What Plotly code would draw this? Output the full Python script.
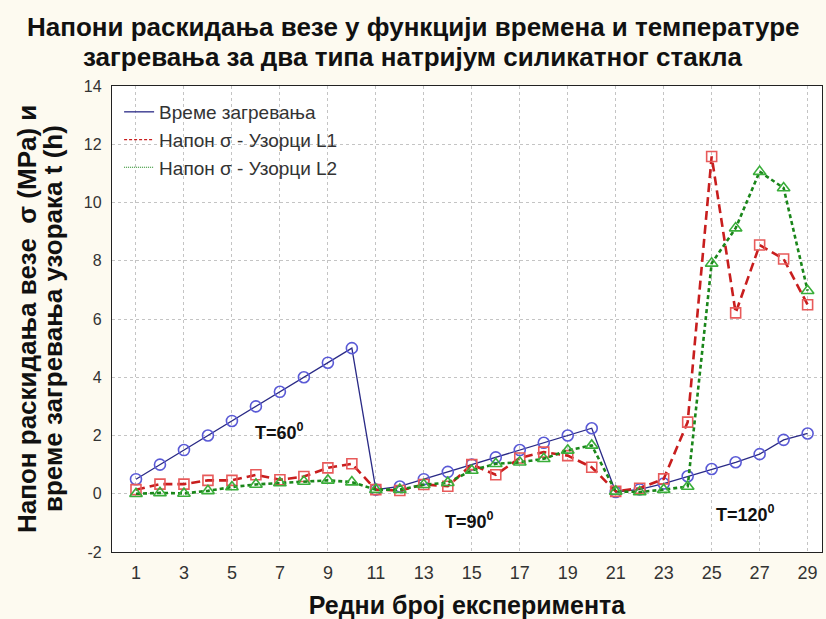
import plotly.graph_objects as go

experiment = list(range(1, 30))
heating_time = [0.5, 1.0, 1.5, 2.0, 2.5, 3.0, 3.5, 4.0, 4.5, 5.0,
                0.14, 0.25, 0.5, 0.75, 1.0, 1.25, 1.5, 1.75, 2.0, 2.25,
                0.06, 0.15, 0.35, 0.6, 0.85, 1.08, 1.36, 1.85, 2.07]
stress_L1 = [0.14, 0.33, 0.33, 0.46, 0.46, 0.65, 0.48, 0.59, 0.89, 1.03,
             0.14, 0.11, 0.32, 0.26, 1.0, 0.65, 1.23, 1.43, 1.31, 0.91,
             0.08, 0.19, 0.51, 2.46, 11.58, 6.21, 8.54, 8.06, 6.49]
stress_L2 = [0.0, 0.03, 0.01, 0.1, 0.23, 0.32, 0.37, 0.42, 0.46, 0.4,
             0.14, 0.14, 0.31, 0.38, 0.8, 1.03, 1.08, 1.2, 1.49, 1.66,
             0.08, 0.06, 0.14, 0.25, 7.91, 9.12, 11.06, 10.5, 6.97]
names = ["Време загревања", "Напон σ - Узорци L1", "Напон σ - Узорци L2"]
x_tickvals = list(range(1, 30, 2))
y_tickvals = [-2, 0, 2, 4, 6, 8, 10, 12, 14]
y_ticktext = ["-2", "0", "2", "4", "6", "8", "10", "12", "14"]
annotations_text = ["T=60<sup>0</sup>", "T=90<sup>0</sup>", "T=120<sup>0</sup>"]
annotations_xy = [(7.0, 2.15), (14.9, -0.92), (26.4, -0.68)]
title_lines = ["Напони раскидања везе у функцији времена и температуре",
               "загревања за два типа натријум силикатног стакла"]
ytitle_lines = ["Напон раскидања везе  σ (MPa) и", "време загревања узорака t (h)"]
xtitle = "Редни број експеримента"

blue_line, blue_mk = "#2a2a86", "#5a5ad6"
red_line, red_mk = "#c81e1e", "#e85a5a"
green_line, green_mk = "#1a861a", "#3aae3a"

fig = go.Figure()
fig.add_trace(go.Scatter(x=experiment, y=heating_time, mode="lines+markers",
                         line=dict(color=blue_line, width=1.3),
                         marker=dict(symbol="circle-open", size=11, color=blue_mk, line=dict(width=1.6)),
                         showlegend=False))
fig.add_trace(go.Scatter(x=experiment, y=stress_L1, mode="lines+markers",
                         line=dict(color=red_line, width=2.6, dash="9px,5px"),
                         marker=dict(symbol="square-open", size=10, color=red_mk, line=dict(width=1.6)),
                         showlegend=False))
fig.add_trace(go.Scatter(x=experiment, y=stress_L2, mode="lines+markers",
                         line=dict(color=green_line, width=2.6, dash="4px,3px"),
                         marker=dict(symbol="triangle-up-open", size=11, color=green_mk, line=dict(width=1.6)),
                         showlegend=False))
# legend entries (lines only, as in the reference)
fig.add_trace(go.Scatter(x=[None], y=[None], mode="lines", name=names[0],
                         line=dict(color=blue_line, width=1.3)))
fig.add_trace(go.Scatter(x=[None], y=[None], mode="lines", name=names[1],
                         line=dict(color=red_line, width=1.2, dash="3px,2px")))
fig.add_trace(go.Scatter(x=[None], y=[None], mode="lines", name=names[2],
                         line=dict(color=green_line, width=1.2, dash="1px,1px")))

for txt, (ax, ay) in zip(annotations_text, annotations_xy):
    fig.add_annotation(x=ax, y=ay, text="<b>" + txt + "</b>", showarrow=False,
                       font=dict(family="Liberation Sans, Arial", size=18, color="#111"))

# title lines
for i, line in enumerate(title_lines):
    fig.add_annotation(xref="paper", yref="paper", x=(413 - 112) / 710, y=1 + (86 - (27 + 30 * i)) / 466,
                       xanchor="center", yanchor="middle", showarrow=False, text="<b>" + line + "</b>",
                       font=dict(family="Liberation Sans Narrow, Liberation Sans, Arial", size=26, color="#111"))
# y-axis title lines
for i, line in enumerate(ytitle_lines):
    fig.add_annotation(xref="paper", yref="paper", x=-(112 - (27 + 26 * i)) / 710, y=(552 - 319) / 466,
                       xanchor="center", yanchor="middle", textangle=-90, showarrow=False,
                       text="<b>" + line + "</b>",
                       font=dict(family="Liberation Sans, Arial", size=26, color="#111"))

fig.update_layout(
    width=826, height=619,
    paper_bgcolor="#fdfaf0", plot_bgcolor="#ffffff",
    margin=dict(l=112, r=4, t=86, b=67, autoexpand=False),
    legend=dict(x=0.01, y=0.985, xanchor="left", yanchor="top",
                bgcolor="rgba(0,0,0,0)", font=dict(family="Liberation Sans, Arial", size=19, color="#333"),
                tracegroupgap=0, itemwidth=30),
    font=dict(family="Liberation Sans, Arial", color="#333"),
)
fig.update_xaxes(range=[0, 29.6], tickvals=x_tickvals, showgrid=True, gridcolor="#c4c4c4", griddash="dot",
                 gridwidth=1, zeroline=False, showline=True, linecolor="#222", linewidth=1.3, mirror=True,
                 ticks="", ticklabelstandoff=4,
                 tickfont=dict(family="Liberation Sans Narrow, Liberation Sans, Arial", size=18, color="#333"),
                 title=dict(text="<b>" + xtitle + "</b>", standoff=16,
                            font=dict(family="Liberation Sans Narrow, Liberation Sans, Arial", size=25, color="#111")))
fig.update_yaxes(range=[-2, 14], tickvals=y_tickvals, ticktext=y_ticktext, showgrid=True, gridcolor="#c4c4c4",
                 griddash="dot", gridwidth=1, zeroline=False, showline=True, linecolor="#222", linewidth=1.3,
                 mirror=True, ticks="", ticklabelstandoff=6,
                 tickfont=dict(family="Liberation Sans, Arial", size=16, color="#333"))

fig.write_html("out.html", config={"displayModeBar": False},
               post_script="document.body.style.margin='0';document.body.style.padding='0';")
